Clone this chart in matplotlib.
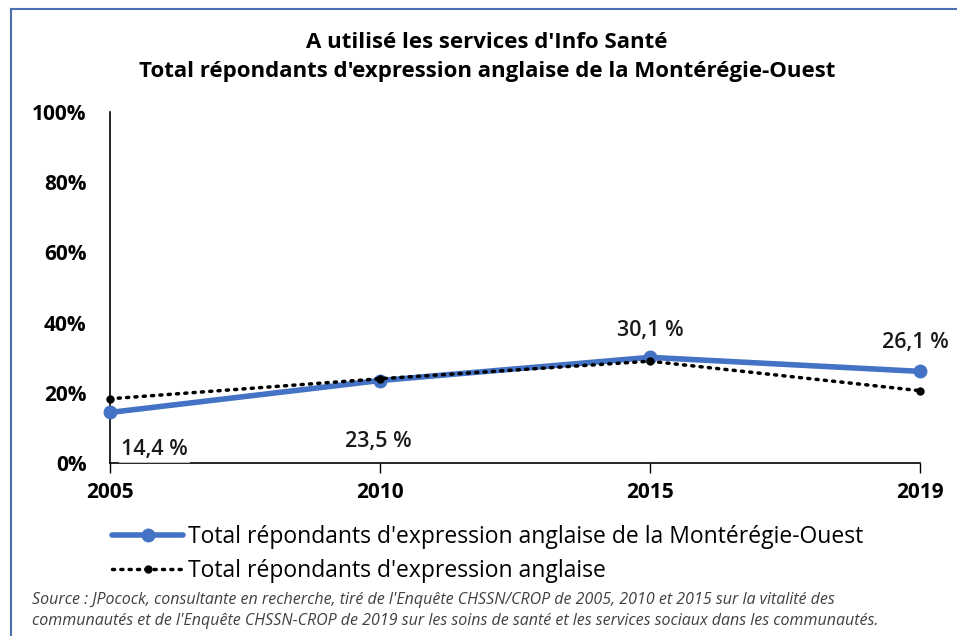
import matplotlib
matplotlib.use("Agg")
import matplotlib.pyplot as plt
from matplotlib.lines import Line2D

years = ["2005", "2010", "2015", "2019"]
monteregie = [14.4, 23.5, 30.1, 26.1]
anglais = [18.3, 24.0, 29.0, 20.6]
labels = ["14,4 %", "23,5 %", "30,1 %", "26,1 %"]
y_ticks = [0, 20, 40, 60, 80, 100]

title = "A utilisé les services d'Info Santé\nTotal répondants d'expression anglaise de la Montérégie-Ouest"
leg1 = "Total répondants d'expression anglaise de la Montérégie-Ouest"
leg2 = "Total répondants d'expression anglaise"
source = ("Source : JPocock, consultante en recherche, tiré de l'Enquête CHSSN/CROP de 2005, 2010 et 2015 sur la vitalité des\n"
          "communautés et de l'Enquête CHSSN-CROP de 2019 sur les soins de santé et les services sociaux dans les communautés.")

plt.rcParams['font.family'] = ['Open Sans', 'DejaVu Sans']
blue = "#4472C4"
W, H = 957, 636

fig = plt.figure(figsize=(W / 100, H / 100), dpi=100)
# chart frame: only top and left edges are visible in the crop
fig.lines.append(Line2D([11 / W, 11 / W], [0, 1 - 9 / H], transform=fig.transFigure,
                        color="#4F70B0", linewidth=1.5))
fig.lines.append(Line2D([11 / W, 1], [1 - 9 / H, 1 - 9 / H], transform=fig.transFigure,
                        color="#4F70B0", linewidth=1.5))

ax = fig.add_axes([110 / W, 1 - 463 / H, 810 / W, 351 / H])
x = range(len(years))

ax.plot(x, monteregie, color=blue, linewidth=4, marker='o', markersize=9,
        solid_capstyle='round', zorder=3, label=leg1, clip_on=False)
ax.plot(x, anglais, color='black', linewidth=2.5, linestyle=(0, (0.6, 1.8)),
        dash_capstyle='round', marker='o', markersize=5, zorder=4, label=leg2, clip_on=False)

# data labels (offsets in points); the first one sits on a faint white box
offsets = [(32, -27), (-1, -44), (0, 19.5), (-3.6, 21)]
for i, (lab, off) in enumerate(zip(labels, offsets)):
    ax.annotate(lab, (i, monteregie[i]), xytext=off, textcoords='offset points',
                ha='center', va='center', fontsize=15.5, fontweight='semibold', color='#1a1a1a',
                bbox=dict(boxstyle='square,pad=0.1', fc='white', ec='none', alpha=0.7) if i == 0 else None,
                zorder=5, annotation_clip=False)

ax.set_xlim(0, 3)
ax.set_ylim(0, 100)
ax.set_xticks(list(x), labels=years)
ax.set_yticks(y_ticks, labels=[f"{v}%" for v in y_ticks])
for lab in ax.get_xticklabels() + ax.get_yticklabels():
    lab.set_fontweight('bold')
    lab.set_fontsize(15)
ax.tick_params(axis='y', length=0, pad=17)
ax.tick_params(axis='x', length=7, width=1, direction='out', pad=7)
ax.spines['top'].set_visible(False)
ax.spines['right'].set_visible(False)
ax.spines['left'].set_linewidth(1.2)
ax.spines['bottom'].set_linewidth(1.2)

fig.text(487 / W, 1 - 32 / H, title, ha='center', va='top', fontsize=16,
         fontweight='bold', linespacing=1.5)

ax.legend(loc='upper left', bbox_to_anchor=(112 / W, 1 - 525 / H), bbox_transform=fig.transFigure,
          frameon=False, fontsize=16.5, handlelength=3.1, handletextpad=0.2, labelspacing=0.45,
          borderaxespad=0, borderpad=0, markerscale=1.0)

fig.text(32 / W, 1 - 592 / H, source, ha='left', va='top', fontsize=11.5,
         style='italic', color='#404040', linespacing=1.45)

fig.savefig("out.png", dpi=100)
